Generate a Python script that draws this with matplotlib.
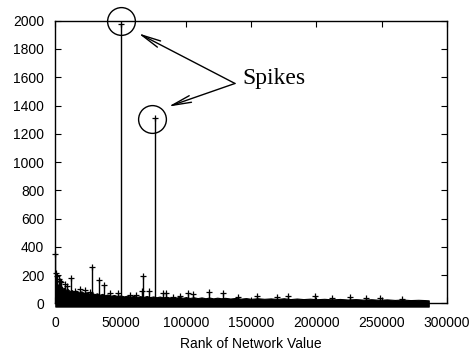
import matplotlib
matplotlib.use('Agg')
import matplotlib.pyplot as plt
import numpy as np

# dense low band (top of the black mass), rank vs value
band_rank = [0, 1000, 2000, 3000, 4000, 5000, 6000, 7000, 8000, 9500, 11000, 12500,
             14000, 16000, 18000, 20000, 22000, 24000, 26000, 28000, 30000, 32000,
             34000, 36000, 38000, 40000, 42500, 45000, 47500, 50000, 52500, 55000,
             57500, 60000, 62500, 65000, 67500, 70000, 72500, 75000, 77500, 80000,
             82500, 85000, 87500, 90000, 92500, 95000, 97500, 100000, 103000, 106000,
             109000, 112000, 115000, 118000, 121000, 124000, 127000, 130000, 134000,
             138000, 142000, 146000, 150000, 155000, 160000, 165000, 170000, 175000,
             180000, 185000, 190000, 195000, 200000, 206000, 212000, 218000, 224000,
             230000, 236000, 242000, 248000, 254000, 260000, 266000, 272000, 278000,
             283000, 286000]
band_val = [170, 150, 128, 140, 112, 120, 104, 112, 96, 102, 88, 95,
            84, 90, 78, 86, 74, 80, 70, 76, 66, 72,
            62, 68, 58, 64, 55, 60, 53, 57, 50, 55,
            48, 54, 47, 52, 46, 53, 45, 50, 44, 49,
            43, 48, 42, 46, 41, 47, 40, 45, 39, 44,
            38, 43, 37, 42, 36, 41, 37, 40, 35,
            39, 34, 38, 33, 37, 33, 36, 32, 37,
            31, 35, 31, 34, 30, 33, 29, 32, 28,
            31, 27, 30, 26, 29, 25, 28, 24, 26,
            24, 22]

# individual spikes sticking out of the band
spike_rank = [0, 500, 1500, 2500, 3500, 4500, 7500, 9000, 11900, 15100, 19000, 22500,
              26600, 28300, 33400, 37500, 41800, 47800, 50300,
              57200, 62000, 66200, 67000, 71800, 76360, 82300, 84800, 90400, 95500, 101400,
              105200, 117900, 128600, 140000, 154300, 169600, 177900, 198600, 212000,
              226000, 238000, 249000, 265400]
spike_val = [350, 215, 195, 175, 160, 150, 138, 125, 178, 90, 100, 95,
             83, 260, 166, 131, 74, 76, 1977,
             60, 62, 88, 197, 90, 1314, 76, 76, 48, 53, 76,
             65, 79, 72, 45, 53, 46, 55, 53, 40,
             48, 36, 39, 35]

plt.rcParams['font.family'] = ['Liberation Sans', 'DejaVu Sans']

fig = plt.figure(figsize=(4.73, 3.5), dpi=100)
ax = fig.add_axes([0.1169, 0.1329, 0.8282, 0.8080])

ax.fill_between(band_rank, -22, band_val, color='black', lw=0.8, clip_on=False, zorder=2)
ax.vlines(spike_rank, 0, spike_val, color='black', lw=1.0, zorder=3)
ax.plot(spike_rank, spike_val, '+', color='black', ms=5, mew=0.9, zorder=3, clip_on=False)

# circles around the two big spikes
ax.plot([50300, 74000], [2000, 1307], 'o', mfc='none', mec='black', ms=20, mew=1.0,
        clip_on=False, zorder=4)

ax.text(143000, 1590, 'Spikes', family=['Liberation Serif'], fontsize=17, va='center', ha='left')
arrow = dict(arrowstyle='->,head_length=1.4,head_width=0.25', color='black', lw=1.0,
             shrinkA=0, shrinkB=0)
ax.annotate('', xy=(63500, 1911), xytext=(137600, 1556), arrowprops=arrow)
ax.annotate('', xy=(86500, 1392), xytext=(137600, 1556), arrowprops=arrow)

ax.set_xlim(0, 300000)
ax.set_ylim(0, 2000)
ax.set_xticks(np.arange(0, 300001, 50000))
ax.set_yticks(np.arange(0, 2001, 200))
ax.tick_params(direction='in', length=4, width=0.8, top=True, right=True, labelsize=10)
ax.tick_params(axis='y', pad=8)
ax.tick_params(axis='x', pad=9)
for s in ax.spines.values():
    s.set_linewidth(1.0)
ax.set_xlabel('Rank of Network Value', fontsize=10, labelpad=5)

fig.savefig('out.png', dpi=100)
